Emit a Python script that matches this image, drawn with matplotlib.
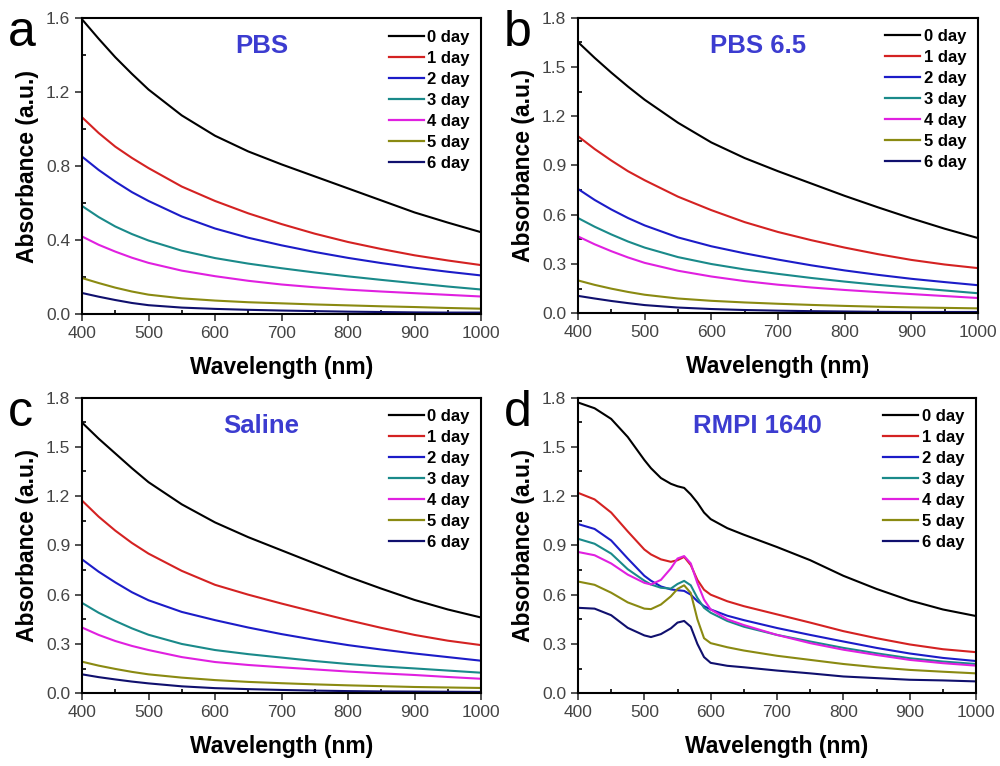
import matplotlib
matplotlib.use('Agg')
import matplotlib.pyplot as plt
from matplotlib.ticker import MultipleLocator, FormatStrFormatter

plt.rcParams['font.family'] = ['Liberation Sans', 'DejaVu Sans']

# ---- data ----
days = ['0 day', '1 day', '2 day', '3 day', '4 day', '5 day', '6 day']
colors = ['#000000', '#d42222', '#1c1cc8', '#1a8a8a', '#e020e0', '#8a8a12', '#10106e']

wl = [400, 425, 450, 475, 500, 550, 600, 650, 700, 750, 800, 850, 900, 950, 1000]

pbs = [
    [1.595, 1.49, 1.39, 1.30, 1.215, 1.075, 0.965, 0.88, 0.81, 0.745, 0.68, 0.615, 0.55, 0.495, 0.443],
    [1.065, 0.98, 0.906, 0.845, 0.79, 0.69, 0.612, 0.545, 0.487, 0.435, 0.39, 0.352, 0.318, 0.29, 0.265],
    [0.852, 0.78, 0.717, 0.66, 0.612, 0.528, 0.463, 0.413, 0.372, 0.336, 0.304, 0.276, 0.251, 0.229, 0.209],
    [0.585, 0.525, 0.474, 0.433, 0.398, 0.343, 0.303, 0.273, 0.248, 0.225, 0.204, 0.185, 0.167, 0.149, 0.133],
    [0.42, 0.375, 0.338, 0.305, 0.277, 0.235, 0.205, 0.18, 0.16, 0.145, 0.132, 0.122, 0.113, 0.104, 0.095],
    [0.195, 0.168, 0.143, 0.122, 0.105, 0.085, 0.073, 0.064, 0.058, 0.052, 0.047, 0.042, 0.038, 0.033, 0.029],
    [0.114, 0.094, 0.076, 0.06, 0.048, 0.035, 0.028, 0.023, 0.019, 0.016, 0.013, 0.011, 0.009, 0.008, 0.008],
]

pbs65 = [
    [1.651, 1.555, 1.465, 1.38, 1.30, 1.16, 1.04, 0.945, 0.865, 0.79, 0.715, 0.645, 0.578, 0.515, 0.458],
    [1.078, 1.0, 0.93, 0.865, 0.81, 0.71, 0.628, 0.555, 0.495, 0.445, 0.40, 0.36, 0.325, 0.297, 0.275],
    [0.757, 0.69, 0.632, 0.58, 0.535, 0.462, 0.408, 0.365, 0.327, 0.292, 0.261, 0.234, 0.21, 0.19, 0.171],
    [0.58, 0.527, 0.48, 0.437, 0.40, 0.342, 0.30, 0.267, 0.24, 0.215, 0.193, 0.173, 0.156, 0.139, 0.122],
    [0.468, 0.42, 0.378, 0.34, 0.307, 0.259, 0.224, 0.196, 0.174, 0.157, 0.142, 0.129, 0.117, 0.105, 0.093],
    [0.20, 0.173, 0.15, 0.13, 0.113, 0.09, 0.076, 0.066, 0.058, 0.051, 0.045, 0.04, 0.036, 0.033, 0.03],
    [0.106, 0.09, 0.075, 0.062, 0.05, 0.035, 0.026, 0.02, 0.016, 0.013, 0.011, 0.009, 0.008, 0.008, 0.008],
]

saline = [
    [1.648, 1.55, 1.46, 1.37, 1.285, 1.15, 1.04, 0.95, 0.87, 0.79, 0.71, 0.637, 0.568, 0.51, 0.461],
    [1.173, 1.075, 0.99, 0.915, 0.85, 0.745, 0.66, 0.60, 0.546, 0.495, 0.445, 0.398, 0.355, 0.32, 0.293],
    [0.815, 0.74, 0.675, 0.615, 0.566, 0.495, 0.445, 0.40, 0.36, 0.325, 0.293, 0.266, 0.242, 0.22, 0.198],
    [0.55, 0.49, 0.44, 0.395, 0.356, 0.30, 0.263, 0.238, 0.217, 0.196, 0.178, 0.163, 0.151, 0.138, 0.125],
    [0.40, 0.355, 0.318, 0.288, 0.263, 0.22, 0.19, 0.172, 0.158, 0.145, 0.132, 0.121, 0.111, 0.099, 0.088],
    [0.192, 0.168, 0.148, 0.13, 0.115, 0.095, 0.08, 0.069, 0.061, 0.054, 0.048, 0.043, 0.038, 0.035, 0.032],
    [0.115, 0.098, 0.084, 0.071, 0.06, 0.042, 0.031, 0.025, 0.02, 0.016, 0.013, 0.011, 0.01, 0.009, 0.008],
]

wl_rpmi = [400, 425, 450, 475, 500, 510, 525, 540, 550, 560, 570, 580, 590, 600,
           625, 650, 700, 750, 800, 850, 900, 950, 1000]

rpmi = [
    [1.77, 1.735, 1.67, 1.56, 1.42, 1.37, 1.31, 1.275, 1.26, 1.25, 1.21, 1.16, 1.10, 1.06,
     1.005, 0.965, 0.89, 0.81, 0.715, 0.635, 0.565, 0.51, 0.47],
    [1.22, 1.18, 1.10, 0.985, 0.875, 0.845, 0.815, 0.80, 0.81, 0.83, 0.78, 0.69, 0.63, 0.60,
     0.56, 0.53, 0.48, 0.43, 0.378, 0.335, 0.297, 0.268, 0.25],
    [1.03, 1.00, 0.93, 0.82, 0.715, 0.685, 0.65, 0.632, 0.627, 0.623, 0.60, 0.56, 0.53, 0.51,
     0.472, 0.445, 0.397, 0.355, 0.315, 0.276, 0.242, 0.215, 0.196],
    [0.94, 0.91, 0.85, 0.755, 0.685, 0.662, 0.642, 0.637, 0.665, 0.684, 0.657, 0.58, 0.52, 0.49,
     0.44, 0.405, 0.355, 0.315, 0.276, 0.243, 0.213, 0.193, 0.178],
    [0.86, 0.84, 0.79, 0.722, 0.672, 0.662, 0.69, 0.76, 0.82, 0.835, 0.79, 0.67, 0.57, 0.51,
     0.45, 0.415, 0.355, 0.305, 0.265, 0.233, 0.203, 0.183, 0.168],
    [0.68, 0.66, 0.612, 0.553, 0.515, 0.512, 0.54, 0.59, 0.635, 0.657, 0.61, 0.45, 0.335, 0.305,
     0.28, 0.26, 0.228, 0.203, 0.178, 0.158, 0.142, 0.131, 0.121],
    [0.52, 0.515, 0.475, 0.398, 0.352, 0.342, 0.36, 0.395, 0.43, 0.44, 0.405, 0.30, 0.22, 0.185,
     0.167, 0.158, 0.138, 0.121, 0.102, 0.092, 0.082, 0.078, 0.072],
]

panels = [
    ('a', 'PBS', wl, pbs, 1.6, 0.4, 0.2),
    ('b', 'PBS 6.5', wl, pbs65, 1.8, 0.3, 0.15),
    ('c', 'Saline', wl, saline, 1.8, 0.3, 0.15),
    ('d', 'RMPI 1640', wl_rpmi, rpmi, 1.8, 0.3, 0.15),
]

# axes boxes in figure fractions (left, bottom, width, height)
boxes = [
    (0.082, 0.590, 0.399, 0.386),
    (0.578, 0.591, 0.400, 0.386),
    (0.082, 0.095, 0.399, 0.386),
    (0.578, 0.095, 0.398, 0.386),
]

fig = plt.figure(figsize=(10, 7.66), dpi=100)

for (letter, title, x, curves, ymax, ymaj, ymin), box in zip(panels, boxes):
    ax = fig.add_axes(box)
    for y, c, lab in zip(curves, colors, days):
        ax.plot(x, y, color=c, lw=1.5, label=lab)

    ax.set_xlim(400, 1000)
    ax.set_ylim(0, ymax)
    ax.xaxis.set_major_locator(MultipleLocator(100))
    ax.xaxis.set_minor_locator(MultipleLocator(50))
    ax.yaxis.set_major_locator(MultipleLocator(ymaj))
    ax.yaxis.set_minor_locator(MultipleLocator(ymin))
    ax.yaxis.set_major_formatter(FormatStrFormatter('%.1f'))
    ax.tick_params(which='major', direction='out', length=5, width=1.2,
                   labelsize=12.5, top=False, right=False, colors='#333333',
                   labelcolor='#444444')
    ax.tick_params(which='minor', direction='in', length=3, width=1.2,
                   top=False, right=False)
    for s in ax.spines.values():
        s.set_linewidth(1.5)

    ax.set_xlabel('Wavelength (nm)', fontsize=16.5, fontweight='bold', labelpad=11)
    ax.set_ylabel('Absorbance (a.u.)', fontsize=16.5, fontweight='bold', labelpad=5)

    ax.text(0.45, 0.905, title, transform=ax.transAxes, ha='center', va='center',
            fontsize=18.5, fontweight='bold', color='#3c3cd0')
    ax.text(-0.185, 0.905, letter, transform=ax.transAxes, ha='left', va='baseline',
            fontsize=36)

    leg = ax.legend(loc='upper right', frameon=False,
                    prop={'weight': 'bold', 'size': 12},
                    handlelength=2.1, handletextpad=0.2, labelspacing=0.36,
                    borderaxespad=0.3)
    for line in leg.get_lines():
        line.set_linewidth(1.6)

fig.savefig('out.png', dpi=100)
